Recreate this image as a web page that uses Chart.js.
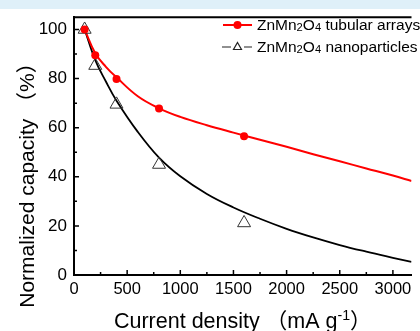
<!DOCTYPE html>
<html>
<head>
<meta charset="utf-8">
<script src="https://cdn.jsdelivr.net/npm/chart.js@4/dist/chart.umd.min.js"></script>
<style>
  body { margin: 0; background: #fff; }
  #band { position: absolute; left: 0; top: 0; width: 420px; height: 9px; background: #dff0f9; }
  #chart { position: absolute; left: 0; top: 0; }
</style>
</head>
<body>
<div id="band"></div>
<canvas id="chart" width="420" height="331"></canvas>
<script>
// fitted curves
var curveX = [100, 200, 300, 400, 600, 800, 1000, 1250, 1500, 1750, 2000, 2250, 2500, 2750, 3000, 3175];
var tubularCurve = [100, 90.3, 84.8, 80.5, 72.8, 67.9, 64.4, 61, 58, 55.1, 52.2, 49.2, 46.3, 43.4, 40.5, 38.3];
var nanoCurve = [100, 87.5, 78.8, 71, 58.3, 47.8, 40.2, 33, 27.5, 22.9, 18.8, 15.3, 12.2, 9.5, 7, 5.3];

// measured points
var pointX = [100, 200, 400, 800, 1600];
var tubularY = [100, 89.5, 79.8, 67.8, 56.5];
var nanoY = [100, 85.3, 69.5, 45, 21.2];

var xTicks = [0, 500, 1000, 1500, 2000, 2500, 3000];
var yTicks = [0, 20, 40, 60, 80, 100];

var yTitle = 'Normalized capacity \uFF08%\uFF09';
var xTitle = [['Current density \uFF08mA g', 1, 0], ['-1', 0.66, -8], ['\uFF09', 1, 0]];
var legendRows = [
    [['ZnMn', 1, 0], ['2', 0.72, 1], ['O', 1, 0], ['4', 0.72, 1], [' tubular arrays', 1, 0]],
    [['ZnMn', 1, 0], ['2', 0.72, 1], ['O', 1, 0], ['4', 0.72, 1], [' nanoparticles', 1, 0]]
];

var FONT = "'Liberation Sans', Arial, 'Noto Sans CJK SC', sans-serif";

function toXY(xs, ys) { // unisce due array in punti {x, y}
    var out = [];
    for (var i = 0; i < xs.length; i++) {
        out.push({ x: xs[i], y: ys[i] });
    }
    return out;
}

function richText(ctx, parts, x, y, size, center) { // testo con pedici / apici
    var w = 0;
    for (var i = 0; i < parts.length; i++) {
        ctx.font = (size * parts[i][1]) + 'px ' + FONT;
        w += ctx.measureText(parts[i][0]).width;
    }
    var cx = center ? x - w / 2 : x;
    for (var j = 0; j < parts.length; j++) {
        ctx.font = (size * parts[j][1]) + 'px ' + FONT;
        ctx.fillText(parts[j][0], cx, y + parts[j][2]);
        cx += ctx.measureText(parts[j][0]).width;
    }
}

var decor = {
    id: 'decor',
    afterDraw: function (chart) {
        var ctx = chart.ctx;
        var area = chart.chartArea;
        var xs = chart.scales.x;
        var ys = chart.scales.y;
        ctx.save();
        ctx.strokeStyle = '#000';
        ctx.fillStyle = '#000';

        // bordo superiore
        ctx.lineWidth = 2;
        ctx.beginPath();
        ctx.moveTo(area.left, area.top);
        ctx.lineTo(area.right, area.top);
        ctx.stroke();

        // tacche interne
        ctx.lineWidth = 1.5;
        ctx.beginPath();
        for (var v = 250; v <= xs.max; v += 250) {
            var px = xs.getPixelForValue(v);
            var len = v % 500 === 0 ? 5 : 3;
            ctx.moveTo(px, area.bottom);
            ctx.lineTo(px, area.bottom - len);
        }
        for (var t = 10; t <= ys.max; t += 10) {
            var py = ys.getPixelForValue(t);
            var l = t % 20 === 0 ? 5 : 3;
            ctx.moveTo(area.left, py);
            ctx.lineTo(area.left + l, py);
        }
        ctx.stroke();

        // legenda
        ctx.textAlign = 'left';
        ctx.textBaseline = 'alphabetic';
        ctx.strokeStyle = '#ff0000';
        ctx.fillStyle = '#ff0000';
        ctx.lineWidth = 2;
        ctx.beginPath();
        ctx.moveTo(223, 25);
        ctx.lineTo(252, 25);
        ctx.stroke();
        ctx.beginPath();
        ctx.arc(237.5, 25, 4, 0, Math.PI * 2);
        ctx.fill();

        ctx.strokeStyle = '#222';
        ctx.lineWidth = 1.2;
        ctx.beginPath();
        ctx.moveTo(222, 47);
        ctx.lineTo(231, 47);
        ctx.moveTo(244, 47);
        ctx.lineTo(252, 47);
        ctx.stroke();
        ctx.beginPath();
        ctx.moveTo(237.5, 42.5);
        ctx.lineTo(241.5, 49.5);
        ctx.lineTo(233.5, 49.5);
        ctx.closePath();
        ctx.stroke();

        ctx.fillStyle = '#000';
        richText(ctx, legendRows[0], 257, 30, 15.5, false);
        richText(ctx, legendRows[1], 257, 52, 15.5, false);

        // titoli assi
        richText(ctx, xTitle, (area.left + area.right) / 2, 328, 21.5, true);
        ctx.translate(34, 180);
        ctx.rotate(-Math.PI / 2);
        ctx.textAlign = 'center';
        ctx.font = '21px ' + FONT;
        ctx.fillText(yTitle, 0, 0);
        ctx.restore();
    }
};

function plainLabel(value) { // niente separatore delle migliaia
    return String(value);
}

var ctx = document.getElementById('chart');
var chart = new Chart(ctx, {
    type: 'line',
    data: {
        datasets: [{
            data: toXY(pointX, tubularY),
            showLine: false,
            pointRadius: 4,
            pointBackgroundColor: '#ff0000',
            pointBorderColor: '#ff0000',
            pointBorderWidth: 0
        }, {
            data: toXY(pointX, nanoY),
            showLine: false,
            pointStyle: 'triangle',
            pointRadius: 7.5,
            pointBackgroundColor: 'rgba(0,0,0,0)',
            pointBorderColor: '#333',
            pointBorderWidth: 1
        }, {
            data: toXY(curveX, tubularCurve),
            borderColor: '#ff0000',
            borderWidth: 2,
            pointRadius: 0,
            tension: 0.4
        }, {
            data: toXY(curveX, nanoCurve),
            borderColor: '#000',
            borderWidth: 1.8,
            pointRadius: 0,
            tension: 0.4
        }]
    },
    options: {
        responsive: false,
        animation: false,
        devicePixelRatio: 1,
        layout: { padding: { top: 14, right: 0, left: 0, bottom: 0 } },
        plugins: { legend: { display: false }, tooltip: { enabled: false } },
        scales: {
            x: {
                type: 'linear',
                min: 0,
                max: 3175,
                afterFit: function (s) { s.height = 56; },
                afterBuildTicks: function (s) { s.ticks = xTicks.map(function (v) { return { value: v }; }); },
                ticks: { font: { family: FONT, size: 16.5 }, color: '#000', padding: 5, maxRotation: 0, callback: plainLabel },
                grid: { display: true, drawOnChartArea: false, drawTicks: false },
                border: { color: '#000', width: 2 }
            },
            y: {
                min: 0,
                max: 105,
                afterFit: function (s) { s.width = 74; },
                afterBuildTicks: function (s) { s.ticks = yTicks.map(function (v) { return { value: v }; }); },
                ticks: { font: { family: FONT, size: 17 }, color: '#000', padding: 7, callback: plainLabel },
                grid: { display: true, drawOnChartArea: false, drawTicks: false },
                border: { color: '#000', width: 2 }
            }
        }
    },
    plugins: [decor]
});
</script>
</body>
</html>
